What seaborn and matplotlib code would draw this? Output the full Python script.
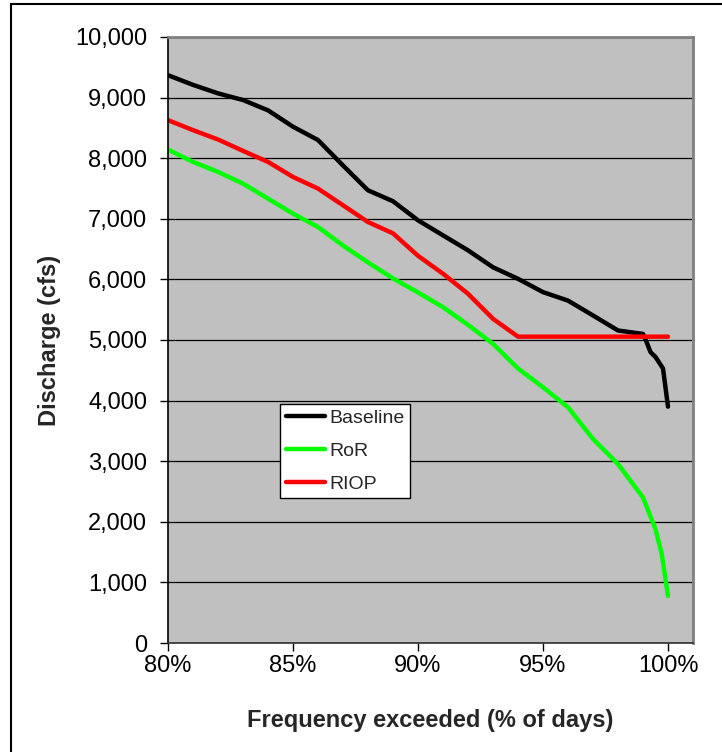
import matplotlib
matplotlib.use("Agg")
import matplotlib.pyplot as plt
import matplotlib.ticker as mticker
from matplotlib.lines import Line2D
import seaborn as sns
import pandas as pd

# ---- data ----
baseline_x = [80, 81, 82, 83, 84, 85, 86, 87, 88, 89, 90, 91, 92, 93, 94, 95, 96, 97, 98, 99,
              99.15, 99.3, 99.5, 99.8, 100]
baseline_y = [9370, 9210, 9070, 8960, 8790, 8520, 8300, 7880, 7470, 7290, 6975, 6727, 6480, 6200,
              6010, 5790, 5650, 5405, 5157, 5100, 4960, 4800, 4720, 4530, 3900]

ror_x = [80, 81, 82, 83, 84, 85, 86, 87, 88, 89, 90, 91, 92, 93, 94, 95, 96, 97, 98, 99,
         99.5, 99.75, 100]
ror_y = [8143, 7939, 7774, 7581, 7333, 7085, 6865, 6560, 6280, 6017, 5785, 5542, 5250, 4937,
         4530, 4220, 3890, 3367, 2953, 2402, 1879, 1466, 777]

riop_x = [80, 81, 82, 83, 84, 85, 86, 87, 88, 89, 90, 91, 92, 93, 94, 95, 96, 97, 98, 99, 100]
riop_y = [8628, 8463, 8309, 8121, 7939, 7691, 7499, 7223, 6947, 6760, 6390, 6094, 5763, 5350,
          5055, 5055, 5055, 5055, 5055, 5055, 5055]

series_names = ["Baseline", "RoR", "RIOP"]
series_colors = ["#000000", "#00FF00", "#FF0000"]
x_ticks = [80, 85, 90, 95, 100]
y_ticks = [0, 1000, 2000, 3000, 4000, 5000, 6000, 7000, 8000, 9000, 10000]

frames = []
for name, xs, ys in zip(series_names, [baseline_x, ror_x, riop_x], [baseline_y, ror_y, riop_y]):
    frames.append(pd.DataFrame({"pct": xs, "discharge": ys, "scenario": name}))
df = pd.concat(frames, ignore_index=True)

sns.set_theme(style="white")
plt.rcParams["font.family"] = ["Liberation Sans", "DejaVu Sans"]

W, H = 722, 752
fig = plt.figure(figsize=(W / 100, H / 100), dpi=100)
L, R, T, B = 168, 693, 37, 643
ax = fig.add_axes([L / W, 1 - B / H, (R - L) / W, (B - T) / H])
ax.set_facecolor("#C0C0C0")

sns.lineplot(data=df, x="pct", y="discharge", hue="scenario", hue_order=series_names,
             palette=dict(zip(series_names, series_colors)), linewidth=3.2,
             estimator=None, sort=False, ax=ax, legend=False)

ax.set_xlim(80, 101)
ax.set_ylim(0, 10000)
ax.set_xticks(x_ticks)
ax.set_yticks(y_ticks)
ax.xaxis.set_major_formatter(mticker.FuncFormatter(lambda v, p: f"{v:.0f}%"))
ax.yaxis.set_major_formatter(mticker.FuncFormatter(lambda v, p: f"{v:,.0f}"))
ax.grid(axis="y", color="black", linewidth=0.9)
ax.grid(axis="x", visible=False)
ax.set_axisbelow(True)

ax.tick_params(axis="both", which="major", direction="out", length=6, width=1,
               color="black", labelsize=17, labelcolor="black", bottom=True, left=True)
ax.tick_params(axis="y", pad=9)
ax.tick_params(axis="x", pad=3)

for side in ["top", "right"]:
    ax.spines[side].set_color("#808080")
    ax.spines[side].set_linewidth(2)
ax.spines["left"].set_color("black")
ax.spines["left"].set_linewidth(1.2)
ax.spines["bottom"].set_color("#303030")
ax.spines["bottom"].set_linewidth(1.2)

ax.set_xlabel("Frequency exceeded (% of days)", fontsize=17, fontweight="bold", labelpad=23)
ax.set_ylabel("Discharge (cfs)", fontsize=17, fontweight="bold", labelpad=10)

handles = [Line2D([0], [0], color=c, lw=3.2) for c in series_colors]
leg = ax.legend(handles, series_names, loc="upper left", bbox_to_anchor=(0.213, 0.395),
                borderaxespad=0, fontsize=14, frameon=True, fancybox=False,
                handlelength=2.0, handletextpad=0.25, labelspacing=0.78,
                borderpad=0.3)
leg.get_frame().set_edgecolor("black")
leg.get_frame().set_linewidth(1)
leg.get_frame().set_facecolor("white")
leg.get_frame().set_alpha(1)

# figure border (left and top visible)
fig.add_artist(Line2D([11 / W, 11 / W], [0, 1 - 4 / H], color="black", lw=1.5,
                      transform=fig.transFigure))
fig.add_artist(Line2D([11 / W, 1], [1 - 4 / H, 1 - 4 / H], color="black", lw=1.5,
                      transform=fig.transFigure))

fig.savefig("out.png", dpi=100)
